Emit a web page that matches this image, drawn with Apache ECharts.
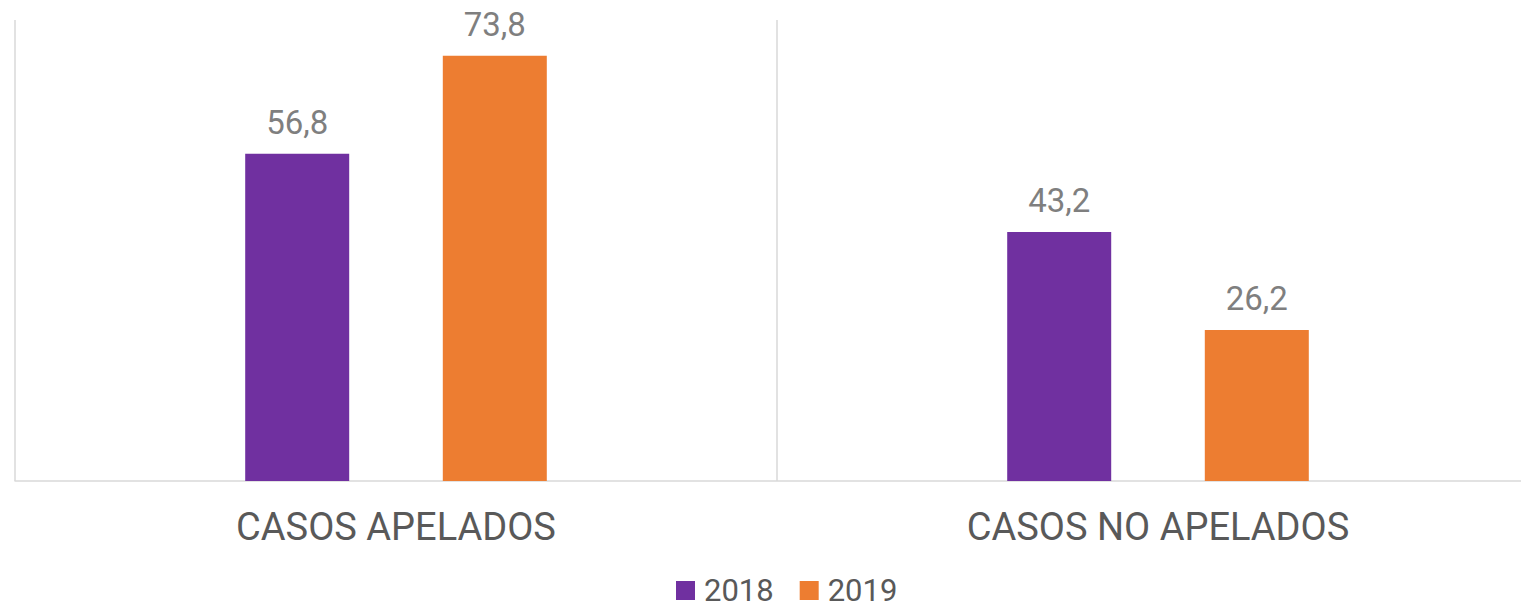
<!DOCTYPE html>
<html>
<head>
<meta charset="utf-8">
<script src="https://cdn.jsdelivr.net/npm/echarts@6/dist/echarts.min.js"></script>
<style>
  html, body { margin: 0; padding: 0; background: #fff; }
  #chart { width: 1521px; height: 610px; }
</style>
</head>
<body>
<div id="chart"></div>
<script>
var categories = ['CASOS APELADOS', 'CASOS NO APELADOS'];
var seriesNames = ['2018', '2019'];
var values2018 = [56.8, 43.2];
var values2019 = [73.8, 26.2];

var FONT = '"Roboto", "Liberation Sans", sans-serif';

var chart = echarts.init(document.getElementById('chart'), null, { renderer: 'svg' });

function fmt(p) { return String(p.value).replace('.', ','); }

var labelStyle = {
  show: true, position: 'top', distance: 15,
  color: '#7F7F7F', fontSize: 33, fontFamily: FONT,
  formatter: fmt
};

chart.setOption({
  animation: false,
  grid: { left: 15, width: 1524, top: 20, height: 461, containLabel: false, outerBoundsMode: 'none' },
  legend: {
    data: seriesNames, left: 676, top: 575, padding: 0,
    itemWidth: 19, itemHeight: 19, itemGap: 26, icon: 'rect',
    textStyle: { color: '#595959', fontSize: 31, lineHeight: 31, fontFamily: FONT, padding: [0, 0, 0, 4] }
  },
  xAxis: {
    type: 'category', data: categories,
    axisLine: { lineStyle: { color: '#D9D9D9', width: 1.5 } },
    axisTick: { show: false },
    axisLabel: { color: '#595959', fontSize: 38, fontFamily: FONT, margin: 27 },
    splitLine: { show: true, lineStyle: { color: '#D9D9D9', width: 1.5 } }
  },
  yAxis: {
    type: 'value', min: 0, max: 80,
    show: false
  },
  series: [
    {
      name: seriesNames[0], type: 'bar', data: values2018,
      barWidth: 104, barGap: '90%',
      itemStyle: { color: '#7030A0' },
      label: labelStyle
    },
    {
      name: seriesNames[1], type: 'bar', data: values2019,
      barWidth: 104,
      itemStyle: { color: '#ED7D31' },
      label: labelStyle
    }
  ]
});
window.addEventListener('resize', function() { chart.resize(); });
</script>
</body>
</html>
